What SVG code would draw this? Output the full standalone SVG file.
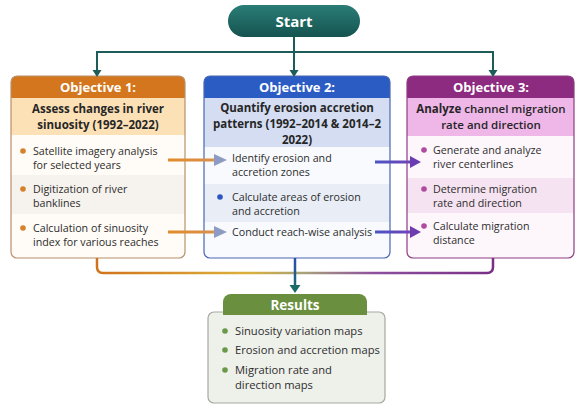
<svg xmlns="http://www.w3.org/2000/svg" width="578" height="408" viewBox="0 0 578 408">
<defs>
<linearGradient id="gStart" x1="0" y1="0" x2="0" y2="1"><stop offset="0" stop-color="#2b7d77"/><stop offset="1" stop-color="#15534f"/></linearGradient>
<linearGradient id="gBottom" gradientUnits="userSpaceOnUse" x1="97" y1="0" x2="493" y2="0"><stop offset="0" stop-color="#d2721c"/><stop offset="0.38" stop-color="#dbb03a"/><stop offset="0.52" stop-color="#a9a27a"/><stop offset="0.7" stop-color="#8d4f9e"/><stop offset="1" stop-color="#7a2f86"/></linearGradient>
<linearGradient id="gCenter" gradientUnits="userSpaceOnUse" x1="0" y1="258" x2="0" y2="292"><stop offset="0" stop-color="#2a4fb2"/><stop offset="1" stop-color="#1d6b66"/></linearGradient>
<linearGradient id="gPurple" gradientUnits="userSpaceOnUse" x1="375" y1="0" x2="420" y2="0"><stop offset="0" stop-color="#4a55c4"/><stop offset="1" stop-color="#7a3fb2"/></linearGradient>
<linearGradient id="gOrange" gradientUnits="userSpaceOnUse" x1="168" y1="0" x2="216" y2="0"><stop offset="0" stop-color="#e18a26"/><stop offset="1" stop-color="#d99050"/></linearGradient>
</defs>
<style>
text{font-family:"Open Sans","Noto Sans","Liberation Sans",sans-serif;fill:#2d2d2d}
.hd{font-size:13px;font-weight:700;fill:#ffffff;text-anchor:middle}
.sh{font-size:11.5px;font-weight:700;fill:#262626;text-anchor:middle}
.bd{font-size:10.7px}
.rs{font-size:11.2px}
.conn{fill:none;stroke:#1d5c58;stroke-width:2}
</style>

<g id="start">
<rect x="228" y="5" width="132" height="32" rx="16" fill="url(#gStart)"/>
<text x="294" y="26.5" style="font-size:15px;font-weight:700;fill:#ffffff;text-anchor:middle">Start</text>
</g>

<g id="objective1">
<rect x="11" y="76" width="174" height="182" rx="6" fill="#fffbf6"/>
<path d="M11,98 V82 a6,6 0 0 1 6,-6 H179 a6,6 0 0 1 6,6 V98 Z" fill="#d4761d"/>
<rect x="11" y="98" width="174" height="37" fill="#fde1b6"/>
<rect x="11" y="175" width="174" height="39" fill="#f6f2ed"/>
<rect x="11" y="76" width="174" height="182" rx="6" fill="none" stroke="#b8906a" stroke-width="1.2"/>
<text class="hd" x="98" y="92">Objective 1:</text>
<text class="sh" x="98" y="113">Assess changes in river</text>
<text class="sh" x="98" y="129">sinuosity (1992–2022)</text>
<circle cx="23" cy="151" r="2.8" fill="#d6822c"/>
<text class="bd" x="33" y="155">Satellite imagery analysis</text>
<text class="bd" x="33" y="169">for selected years</text>
<circle cx="23" cy="189" r="2.8" fill="#d6822c"/>
<text class="bd" x="33" y="193">Digitization of river</text>
<text class="bd" x="33" y="207">banklines</text>
<circle cx="23" cy="228" r="2.8" fill="#d6822c"/>
<text class="bd" x="33" y="232">Calculation of sinuosity</text>
<text class="bd" x="33" y="246">index for various reaches</text>
</g>

<g id="objective2">
<rect x="204" y="76" width="186" height="182" rx="6" fill="#f8fafd"/>
<path d="M204,98 V82 a6,6 0 0 1 6,-6 H384 a6,6 0 0 1 6,6 V98 Z" fill="#2b5cc4"/>
<rect x="204" y="98" width="186" height="49" fill="#d4ddf2"/>
<rect x="204" y="184" width="186" height="38" fill="#e8edf6"/>
<rect x="204" y="76" width="186" height="182" rx="6" fill="none" stroke="#4a66b4" stroke-width="1.2"/>
<text class="hd" x="297" y="92">Objective 2:</text>
<text class="sh" x="297" y="112">Quantify erosion accretion</text>
<text class="sh" x="297" y="128">patterns (1992–2014 &amp; 2014–2</text>
<text class="sh" x="297" y="144">2022)</text>
<text class="bd" x="232" y="162">Identify erosion and</text>
<text class="bd" x="232" y="176">accretion zones</text>
<circle cx="220" cy="197" r="2.8" fill="#2c55c2"/>
<text class="bd" x="232" y="201">Calculate areas of erosion</text>
<text class="bd" x="232" y="215">and accretion</text>
<text class="bd" x="232" y="236">Conduct reach-wise analysis</text>
</g>

<g id="objective3">
<rect x="407" y="76" width="167" height="182" rx="6" fill="#fdf7fc"/>
<path d="M407,98 V82 a6,6 0 0 1 6,-6 H568 a6,6 0 0 1 6,6 V98 Z" fill="#8c2b80"/>
<rect x="407" y="98" width="167" height="38" fill="#efb6e8"/>
<rect x="407" y="178" width="167" height="35" fill="#f6e3f2"/>
<rect x="407" y="76" width="167" height="182" rx="6" fill="none" stroke="#8e3c84" stroke-width="1.2"/>
<text class="hd" x="491" y="92">Objective 3:</text>
<text class="sh" x="491" y="113">Analyze <tspan style="font-weight:600">channel migration</tspan></text>
<text class="sh" x="491" y="129" style="font-weight:600">rate and direction</text>
<circle cx="424" cy="150" r="2.8" fill="#b04a9e"/>
<text class="bd" x="433" y="154">Generate and analyze</text>
<text class="bd" x="433" y="168">river centerlines</text>
<circle cx="424" cy="189" r="2.8" fill="#b04a9e"/>
<text class="bd" x="433" y="193">Determine migration</text>
<text class="bd" x="433" y="207">rate and direction</text>
<circle cx="424" cy="226" r="2.8" fill="#b04a9e"/>
<text class="bd" x="433" y="230">Calculate migration</text>
<text class="bd" x="433" y="244">distance</text>
</g>

<g id="results">
<rect x="208" y="312" width="177" height="91" rx="6" fill="#eef0ea" stroke="#a6aaa0" stroke-width="1.2"/>
<path d="M223,315 V302 a8,8 0 0 1 8,-8 H359 a8,8 0 0 1 8,8 V315 Z" fill="#6a8f3e"/>
<text x="295" y="310" style="font-size:13.5px;font-weight:700;fill:#ffffff;text-anchor:middle">Results</text>
<circle cx="225" cy="331" r="2.8" fill="#6a9a48"/>
<text class="rs" x="235" y="335">Sinuosity variation maps</text>
<circle cx="225" cy="350" r="2.8" fill="#6a9a48"/>
<text class="rs" x="235" y="354">Erosion and accretion maps</text>
<circle cx="225" cy="370" r="2.8" fill="#6a9a48"/>
<text class="rs" x="235" y="374">Migration rate and</text>
<text class="rs" x="235" y="389">direction maps</text>
</g>

<g id="connectors">
<path class="conn" d="M294,37 V52"/>
<path class="conn" d="M97,71 V52 H493 V71"/>
<path class="conn" d="M294,52 V71"/>
<polygon points="92.5,70 101.5,70 97,77" fill="#1d5c58"/>
<polygon points="289.5,70 298.5,70 294,77" fill="#1d5c58"/>
<polygon points="488.5,70 497.5,70 493,77" fill="#1d5c58"/>
<line x1="168" y1="160" x2="216" y2="160" stroke="url(#gOrange)" stroke-width="3"/>
<polygon points="214,154 227,160 214,166" fill="#8e9bc2"/>
<line x1="168" y1="232" x2="216" y2="232" stroke="url(#gOrange)" stroke-width="3"/>
<polygon points="214,226 227,232 214,238" fill="#8e9bc2"/>
<line x1="375" y1="162" x2="412" y2="162" stroke="url(#gPurple)" stroke-width="3"/>
<polygon points="410,156 421,162 410,168" fill="#6a3cb2"/>
<line x1="375" y1="232" x2="412" y2="232" stroke="url(#gPurple)" stroke-width="3"/>
<polygon points="410,226 421,232 410,238" fill="#6f3cb0"/>
<path d="M97,258 V267 Q97,273 103,273 H487 Q493,273 493,267 V258" fill="none" stroke="url(#gBottom)" stroke-width="2.5"/>
<line x1="295" y1="258" x2="295" y2="287" stroke="url(#gCenter)" stroke-width="2.5"/>
<polygon points="289.5,285 300.5,285 295,293" fill="#1d6b66"/>
</g>
</svg>
